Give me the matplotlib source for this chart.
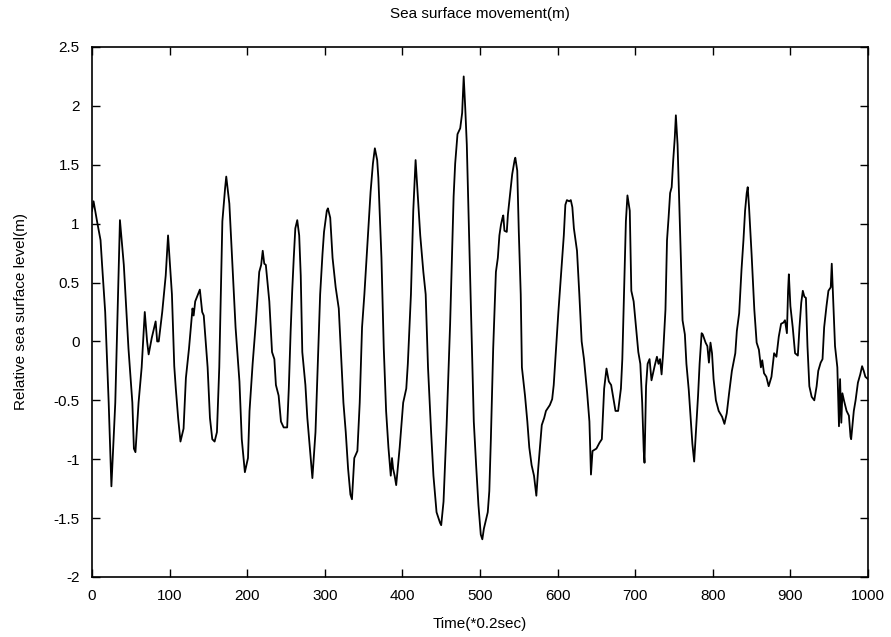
"""
Sea surface movement record, redrawn from a scanned figure.
Values were read off the scan at the turning points of the trace.
"""
import matplotlib
matplotlib.use('Agg')
import matplotlib.pyplot as plt

plt.rcParams['font.family'] = ['Liberation Sans', 'DejaVu Sans']

# time in units of 0.2 sec
time = [
    0, 2, 6.5, 11, 13, 17, 21.5, 25, 30, 33.6, 36, 41, 47, 52, 54, 56, 60, 64, 68, 71,
    73, 77, 82, 84, 86, 90.5, 95, 98, 103, 106, 108, 111, 114, 118, 121, 125, 129.5, 131, 133, 139,
    142, 144, 149, 152, 155, 158, 161, 164, 168, 171.5, 173, 177, 181, 185, 190, 193, 197, 201, 203, 207,
    211, 215.5, 218, 220, 222, 224, 228.5, 232, 235, 237, 240.5, 243.5, 247, 251.5, 253.6, 256, 258, 260, 262, 264.5,
    267, 269, 271, 275, 277.5, 281, 284, 288, 290.5, 294, 297, 299, 302.6, 304, 307, 310, 314, 318, 321, 324,
    327, 330, 333, 335, 338, 342, 345, 348, 351, 355, 359, 362, 364.5, 367.5, 369, 373, 376, 379, 382, 385,
    386.6, 388, 390, 392, 396.5, 401, 405, 407, 411, 414, 417, 419, 423, 427, 430, 433, 437, 440, 444, 448.5,
    450, 453, 457, 461.5, 466, 468, 471, 474.5, 477, 479, 481, 483, 485.5, 489, 492, 495, 498, 501, 503, 505,
    510, 512, 514, 517, 520.5, 523, 525, 527, 529, 530, 531.5, 534.5, 536, 539, 541.5, 544.6, 545.5, 548, 550, 552.5,
    554, 558, 561, 563.5, 566.5, 569.6, 572.6, 575, 579.6, 582.7, 585, 590, 593, 595, 598, 601, 604.6, 608, 610, 612,
    615, 617, 619, 621, 625, 628, 631, 634, 638, 641, 643, 645, 650, 654, 657, 660, 663, 666, 669, 672,
    674.6, 678, 681.6, 683.4, 685.6, 688, 690, 693, 695, 698, 702, 704, 706.6, 709, 711, 712, 714, 716, 718.5, 721,
    725, 728, 730, 732, 734, 736, 739, 741, 743, 745, 747, 749, 751, 752.4, 754.6, 756.7, 759, 761, 764, 766,
    769, 771.5, 773.7, 776, 779, 781, 783, 785.6, 787, 790.7, 793, 795, 797, 799, 801, 804, 807.6, 812, 815, 818,
    821, 824.6, 829, 831, 834, 837, 839.5, 841.6, 843.7, 845, 846.7, 850, 853.5, 856.5, 859.4, 862, 863.7, 866, 869, 872,
    875.6, 879, 882, 885, 888, 891, 893, 895.5, 897, 898, 900, 903, 906, 909.6, 911.7, 914, 916, 918, 920, 922,
    924.4, 927.4, 930.8, 933.8, 935.9, 939, 941.4, 943.5, 946.5, 949, 952, 953.3, 955, 957.5, 960.5, 962.6, 964, 965.6, 967, 969,
    972.4, 975.4, 977.5, 978.3, 981.7, 984, 987, 990, 992.4, 994.5, 996.6, 1000,
]

# relative sea surface level (m)
level = [
    1.11, 1.19, 1.02, 0.86, 0.65, 0.25, -0.52, -1.23, -0.52, 0.40, 1.03, 0.65, -0.06, -0.52, -0.91, -0.94, -0.52, -0.22, 0.25, 0.00,
    -0.11, 0.03, 0.17, 0.00, 0.00, 0.25, 0.56, 0.90, 0.40, -0.21, -0.40, -0.65, -0.85, -0.74, -0.31, -0.06, 0.28, 0.22, 0.34, 0.44,
    0.25, 0.22, -0.22, -0.65, -0.83, -0.85, -0.77, -0.22, 1.02, 1.30, 1.40, 1.17, 0.65, 0.12, -0.34, -0.83, -1.11, -0.99, -0.59, -0.19,
    0.15, 0.59, 0.65, 0.77, 0.66, 0.65, 0.34, -0.09, -0.15, -0.37, -0.46, -0.68, -0.73, -0.73, -0.40, 0.09, 0.43, 0.71, 0.96, 1.03,
    0.90, 0.56, -0.09, -0.37, -0.65, -0.93, -1.16, -0.77, -0.28, 0.40, 0.74, 0.93, 1.11, 1.13, 1.05, 0.71, 0.46, 0.28, -0.12, -0.52,
    -0.77, -1.08, -1.30, -1.34, -0.99, -0.93, -0.52, 0.12, 0.40, 0.83, 1.27, 1.51, 1.64, 1.54, 1.39, 0.71, -0.06, -0.59, -0.90, -1.14,
    -0.99, -1.08, -1.14, -1.22, -0.90, -0.52, -0.40, -0.19, 0.40, 1.11, 1.54, 1.33, 0.90, 0.59, 0.40, -0.22, -0.77, -1.14, -1.45, -1.54,
    -1.56, -1.36, -0.71, 0.15, 1.23, 1.51, 1.76, 1.81, 1.94, 2.25, 1.98, 1.67, 1.02, 0.09, -0.68, -1.05, -1.39, -1.64, -1.68, -1.59,
    -1.45, -1.27, -0.83, -0.06, 0.59, 0.71, 0.90, 0.99, 1.05, 1.07, 0.94, 0.93, 1.08, 1.27, 1.42, 1.54, 1.56, 1.45, 0.93, 0.40,
    -0.22, -0.46, -0.68, -0.90, -1.05, -1.14, -1.31, -1.08, -0.71, -0.65, -0.59, -0.54, -0.49, -0.37, -0.06, 0.25, 0.59, 0.90, 1.16, 1.20,
    1.19, 1.20, 1.14, 0.96, 0.77, 0.40, 0.00, -0.15, -0.43, -0.68, -1.13, -0.93, -0.91, -0.86, -0.83, -0.40, -0.23, -0.34, -0.37, -0.49,
    -0.59, -0.59, -0.40, -0.15, 0.40, 1.02, 1.24, 1.11, 0.43, 0.34, 0.06, -0.09, -0.19, -0.52, -0.93, -1.03, -0.38, -0.19, -0.15, -0.33,
    -0.21, -0.13, -0.19, -0.15, -0.28, -0.10, 0.27, 0.86, 1.05, 1.26, 1.31, 1.54, 1.73, 1.92, 1.67, 1.20, 0.67, 0.18, 0.06, -0.19,
    -0.41, -0.66, -0.87, -1.02, -0.69, -0.46, -0.19, 0.07, 0.06, -0.01, -0.04, -0.18, -0.01, -0.10, -0.32, -0.50, -0.59, -0.64, -0.70, -0.61,
    -0.44, -0.25, -0.10, 0.09, 0.24, 0.61, 0.86, 1.11, 1.26, 1.31, 1.14, 0.74, 0.27, -0.01, -0.07, -0.22, -0.16, -0.27, -0.30, -0.38,
    -0.30, -0.10, -0.13, 0.04, 0.15, 0.16, 0.18, 0.07, 0.43, 0.57, 0.30, 0.12, -0.10, -0.12, 0.12, 0.33, 0.43, 0.38, 0.37, -0.04,
    -0.38, -0.47, -0.50, -0.38, -0.25, -0.18, -0.15, 0.12, 0.30, 0.43, 0.46, 0.66, 0.37, -0.04, -0.22, -0.72, -0.32, -0.69, -0.44, -0.50,
    -0.59, -0.63, -0.81, -0.83, -0.59, -0.50, -0.35, -0.28, -0.21, -0.25, -0.30, -0.32,
]

xticks = list(range(0, 1001, 100))
yticks = [-2, -1.5, -1, -0.5, 0, 0.5, 1, 1.5, 2, 2.5]
ytick_labels = ['-2', '-1.5', '-1', '-0.5', '0', '0.5', '1', '1.5', '2', '2.5']

fig = plt.figure(figsize=(8.91, 6.37), dpi=100)
ax = fig.add_axes([92 / 891, 1 - 577 / 637, 776 / 891, 530 / 637])

ax.plot(time, level, color='black', lw=1.3)

ax.set_xlim(0, 1000)
ax.set_ylim(-2, 2.5)
ax.set_xticks(xticks)
ax.set_yticks(yticks)
ax.set_yticklabels(ytick_labels)
# matlab style: inward ticks on every side
ax.tick_params(direction='in', length=6, width=1, top=True, right=True,
               labelsize=11, pad=9)
for side in ax.spines.values():
    side.set_linewidth(1.2)

ax.set_title('Sea surface movement(m)', fontsize=11, pad=21)
ax.set_xlabel('Time(*0.2sec)', fontsize=11, labelpad=10)
ax.set_ylabel('Relative sea surface level(m)', fontsize=11, labelpad=18)

fig.savefig('out.png', dpi=100)
